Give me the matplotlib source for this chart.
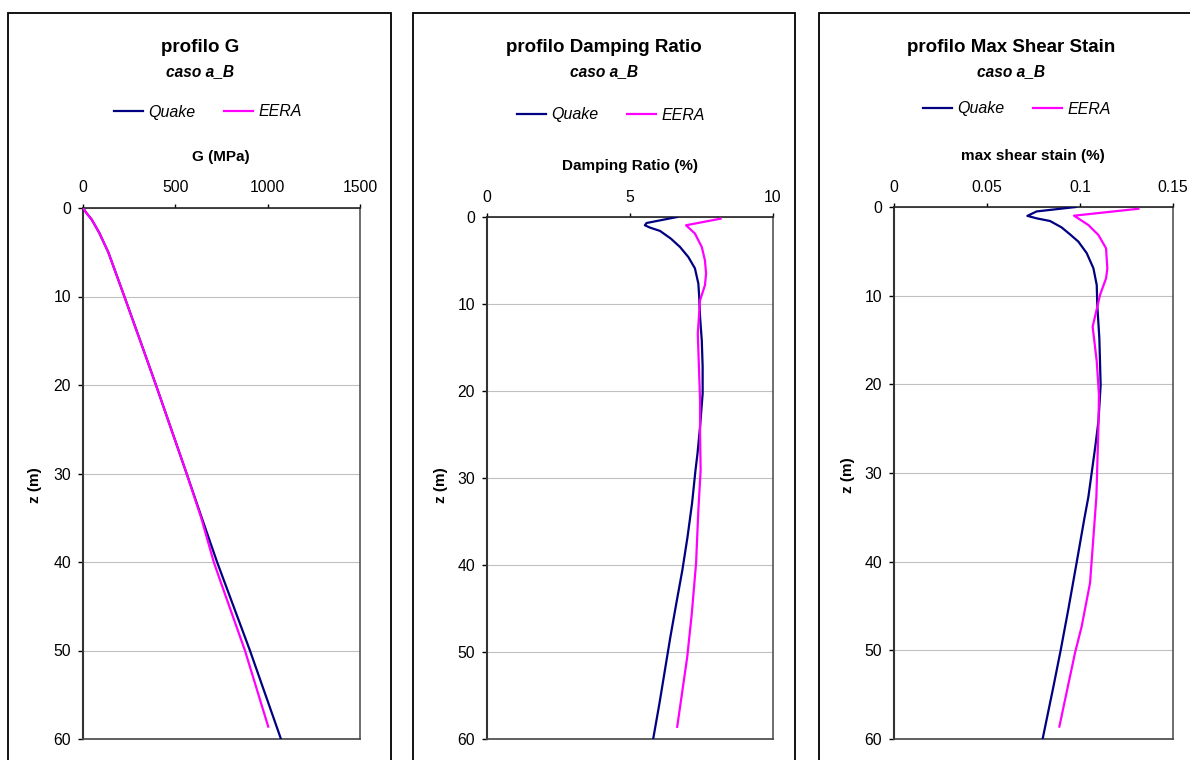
import matplotlib
matplotlib.use("Agg")
import matplotlib.pyplot as plt
from matplotlib.patches import Rectangle

plt.rcParams['font.family'] = ['Liberation Sans', 'DejaVu Sans']

W, H = 1190, 760

# ---- shear modulus profile G (MPa) ----
z_G_quake = [0, 0.6, 1.3, 2.8, 5, 10, 15, 20, 25, 30, 35, 40, 45, 50, 55, 60]
G_quake = [0, 20, 47, 88, 137, 224, 310, 395, 478, 561, 643, 726, 815, 904, 988, 1072]
z_G_eera = [0, 0.6, 1.3, 2.8, 5, 10, 20, 30, 35, 40, 42.4, 50, 58.6]
G_eera = [0, 20, 47, 88, 137, 224, 395, 561, 640, 708, 748, 877, 1003]

# ---- damping ratio profile (%) ----
z_D_quake = [0, 0.69, 0.95, 1.22, 1.6, 2.49, 3.45, 4.6, 5.9, 7.66, 9.2, 11.5, 14.2,
             17.2, 20.3, 24.1, 27.2, 29.1, 32.9, 36.8, 40.6, 44.4, 48.3, 52.1, 55.9, 60]
D_quake = [6.65, 5.58, 5.52, 5.70, 6.05, 6.43, 6.75, 7.04, 7.27, 7.39, 7.42, 7.45, 7.51,
           7.54, 7.54, 7.45, 7.36, 7.29, 7.17, 7.01, 6.83, 6.62, 6.41, 6.22, 6.03, 5.81]
z_D_eera = [0.19, 0.95, 1.9, 3.45, 4.98, 6.5, 7.85, 9.57, 13.4, 17.2, 21.1, 24.9, 29.1,
            33.7, 39.8, 45.6, 50.6, 58.6]
D_eera = [8.17, 6.96, 7.27, 7.51, 7.62, 7.66, 7.62, 7.45, 7.37, 7.41, 7.45, 7.45, 7.47,
          7.39, 7.31, 7.16, 7.00, 6.65]

# ---- max shear strain profile (%) ----
z_S_quake = [0, 0.5, 1.0, 1.28, 1.58, 2.3, 3.08, 3.9, 5.2, 6.9, 8.8, 11.1, 14.8, 20.1,
             24.2, 27.2, 32.7, 35.3, 40.1, 45.4, 50, 54.1, 60]
S_quake = [0.0978, 0.0767, 0.0717, 0.0767, 0.0839, 0.0901, 0.0946, 0.0991, 0.1036, 0.1072,
           0.1090, 0.1093, 0.1104, 0.1111, 0.1099, 0.1081, 0.1045, 0.1022, 0.0982, 0.0937,
           0.0896, 0.0857, 0.0799]
z_S_eera = [0.2, 0.98, 2.03, 3.16, 4.66, 6.92, 8.05, 9.9, 13.5, 17.4, 21.2, 24.9, 32.7,
            42.4, 47.3, 50.3, 58.6]
S_eera = [0.1314, 0.0968, 0.1045, 0.1099, 0.1140, 0.1147, 0.1140, 0.1108, 0.1068, 0.1090,
          0.1102, 0.1099, 0.1088, 0.1054, 0.1009, 0.0973, 0.0889]

titles = ["profilo G", "profilo Damping Ratio", "profilo Max Shear Stain"]
subtitle = "caso a_B"
xlabels = ["G (MPa)", "Damping Ratio (%)", "max shear stain (%)"]
xticks = [[0, 500, 1000, 1500], [0, 5, 10], [0, 0.05, 0.1, 0.15]]
xticklabels = [["0", "500", "1000", "1500"], ["0", "5", "10"], ["0", "0.05", "0.1", "0.15"]]
yticks = [0, 10, 20, 30, 40, 50, 60]
series_names = ["Quake", "EERA"]

QUAKE_C = "#000080"
EERA_C = "#FF00FF"


def fx(px):
    return px / W


def fy(py):
    return 1 - py / H


fig = plt.figure(figsize=(W / 100, H / 100), dpi=100)

# pixel layout for each panel
panels = [
    dict(box=(8, 13, 391), ax=(83, 208, 360, 739), title_x=200, leg=(208, 112),
         xlab=(221, 157), ylab=(35, 485)),
    dict(box=(413, 13, 795), ax=(487, 217, 773, 739), title_x=604, leg=(611, 115),
         xlab=(630, 166), ylab=(441, 485)),
    dict(box=(819, 13, 1205), ax=(894, 207, 1173, 739), title_x=1011, leg=(1017, 109),
         xlab=(1033, 156), ylab=(848, 475)),
]

data = [
    (z_G_quake, G_quake, z_G_eera, G_eera),
    (z_D_quake, D_quake, z_D_eera, D_eera),
    (z_S_quake, S_quake, z_S_eera, S_eera),
]

for i, p in enumerate(panels):
    bl, bt, br = p['box']
    fig.patches.append(Rectangle((fx(bl), fy(H + 20)), fx(br) - fx(bl), fy(bt) - fy(H + 20),
                                 transform=fig.transFigure, fill=False,
                                 edgecolor='black', linewidth=1.3, zorder=0))
    l, t, r, b = p['ax']
    ax = fig.add_axes([fx(l), fy(b), fx(r) - fx(l), fy(t) - fy(b)])
    zq, vq, ze, ve = data[i]
    ax.plot(vq, zq, color=QUAKE_C, lw=1.6, label=series_names[0], zorder=3)
    ax.plot(ve, ze, color=EERA_C, lw=1.6, label=series_names[1], zorder=4)

    ax.set_xlim(xticks[i][0], xticks[i][-1])
    ax.set_ylim(60, 0)
    ax.xaxis.tick_top()
    ax.set_xticks(xticks[i])
    ax.set_xticklabels(xticklabels[i])
    ax.set_yticks(yticks)
    ax.set_yticklabels([str(v) for v in yticks])
    ax.tick_params(axis='x', direction='out', length=3, width=1, pad=6,
                   labelsize=11.3, colors='black')
    ax.tick_params(axis='y', direction='out', length=3.6, width=1, pad=5,
                   labelsize=11.3, colors='black')
    ax.grid(axis='y', color='#C0C0C0', lw=0.8)
    ax.set_axisbelow(True)
    ax.spines['left'].set_color('#333333')
    ax.spines['left'].set_linewidth(1.5)
    ax.spines['top'].set_color('#222222')
    ax.spines['top'].set_linewidth(1.2)
    ax.spines['right'].set_color('#555555')
    ax.spines['right'].set_linewidth(1.2)
    ax.spines['bottom'].set_color('#444444')
    ax.spines['bottom'].set_linewidth(1.2)

    fig.text(fx(p['title_x']), fy(47), titles[i], ha='center', va='center',
             fontsize=13.5, fontweight='bold')
    fig.text(fx(p['title_x']), fy(72), subtitle, ha='center', va='center',
             fontsize=11.2, fontweight='bold', style='italic')
    xl, yl = p['xlab']
    fig.text(fx(xl), fy(yl), xlabels[i], ha='center', va='center',
             fontsize=11, fontweight='bold')
    yx, yy = p['ylab']
    fig.text(fx(yx), fy(yy), "z (m)", ha='center', va='center', rotation=90,
             fontsize=11, fontweight='bold')

    lx, ly = p['leg']
    leg = ax.legend(loc='center', bbox_to_anchor=(fx(lx), fy(ly)),
                    bbox_transform=fig.transFigure, ncol=2, frameon=False,
                    handlelength=1.8, handletextpad=0.35, columnspacing=1.8,
                    prop={'size': 11.5, 'style': 'italic'})

fig.savefig("out.png", dpi=100)
